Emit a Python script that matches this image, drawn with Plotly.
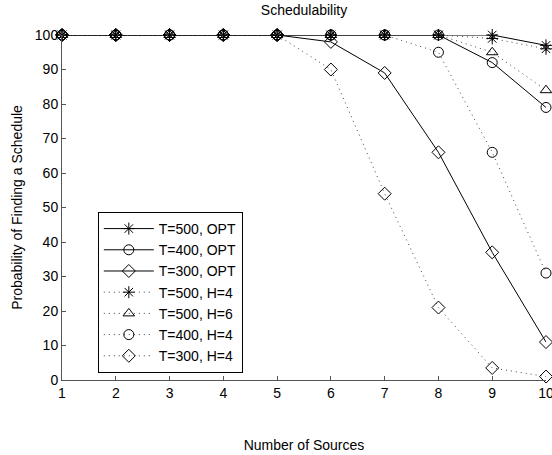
import plotly.graph_objects as go

sources = [1, 2, 3, 4, 5, 6, 7, 8, 9, 10]
t500_opt = [100, 100, 100, 100, 100, 100, 100, 100, 100, 97]
t400_opt = [100, 100, 100, 100, 100, 100, 100, 100, 92, 79]
t300_opt = [100, 100, 100, 100, 100, 98, 89, 66, 37, 11]
t500_h4 = [100, 100, 100, 100, 100, 100, 100, 100, 99, 96]
t500_h6 = [100, 100, 100, 100, 100, 100, 100, 100, 95, 84]
t400_h4 = [100, 100, 100, 100, 100, 100, 100, 95, 66, 31]
t300_h4 = [100, 100, 100, 100, 100, 90, 54, 21, 3.5, 1]

y_ticks = [0, 10, 20, 30, 40, 50, 60, 70, 80, 90, 100]

series = [
    ("T=500, OPT", t500_opt, "solid", "asterisk-open"),
    ("T=400, OPT", t400_opt, "solid", "circle-open"),
    ("T=300, OPT", t300_opt, "solid", "diamond-open"),
    ("T=500, H=4", t500_h4, "1px,4px", "asterisk-open"),
    ("T=500, H=6", t500_h6, "1px,4px", "triangle-up-open"),
    ("T=400, H=4", t400_h4, "1px,4px", "circle-open"),
    ("T=300, H=4", t300_h4, "1px,4px", "diamond-open"),
]

fig = go.Figure()
for name, vals, dash, sym in series:
    solid = dash == "solid"
    fig.add_trace(go.Scatter(
        x=sources, y=vals, name=name, mode="lines+markers",
        line=dict(color="#000000" if solid else "#444444", width=1, dash=dash),
        marker=dict(symbol=sym, size=10, color="#000000",
                    line=dict(width=1, color="#000000")),
        cliponaxis=False,
    ))

font = "Liberation Sans, Arial, Helvetica, sans-serif"
fig.update_layout(
    width=552, height=455,
    margin=dict(l=62, r=6, t=35, b=75, autoexpand=False),
    paper_bgcolor="white", plot_bgcolor="white",
    font=dict(family=font, size=14, color="#000000"),
    title=dict(text="Schedulability", x=(304 / 552), xanchor="center",
               y=1 - 10 / 455, yanchor="middle", font=dict(size=14)),
    showlegend=True,
    legend=dict(x=0.074, y=0.487, xanchor="left", yanchor="top",
                bgcolor="white", bordercolor="#000000", borderwidth=1,
                font=dict(size=14), tracegroupgap=0, itemwidth=50),
)
fig.update_xaxes(
    range=[1, 10], tickvals=sources, ticktext=[str(s) for s in sources],
    showgrid=False, zeroline=False, showline=True, linecolor="#555555", linewidth=1,
    ticks="inside", ticklen=4, tickcolor="#555555", automargin=False,
    ticklabeloverflow="allow",
    title=dict(text="Number of Sources", font=dict(size=14), standoff=40),
)
fig.update_yaxes(
    range=[0, 100], tickvals=y_ticks, ticktext=[str(v) for v in y_ticks],
    showgrid=False, zeroline=False, showline=True, linecolor="#555555", linewidth=1,
    ticks="inside", ticklen=4, tickcolor="#555555", automargin=False,
    ticklabeloverflow="allow",
    title=dict(text="Probability of Finding a Schedule", font=dict(size=14), standoff=8),
)

fig.write_html("out.html", config={"displayModeBar": False},
               post_script="document.body.style.margin='0px';")
